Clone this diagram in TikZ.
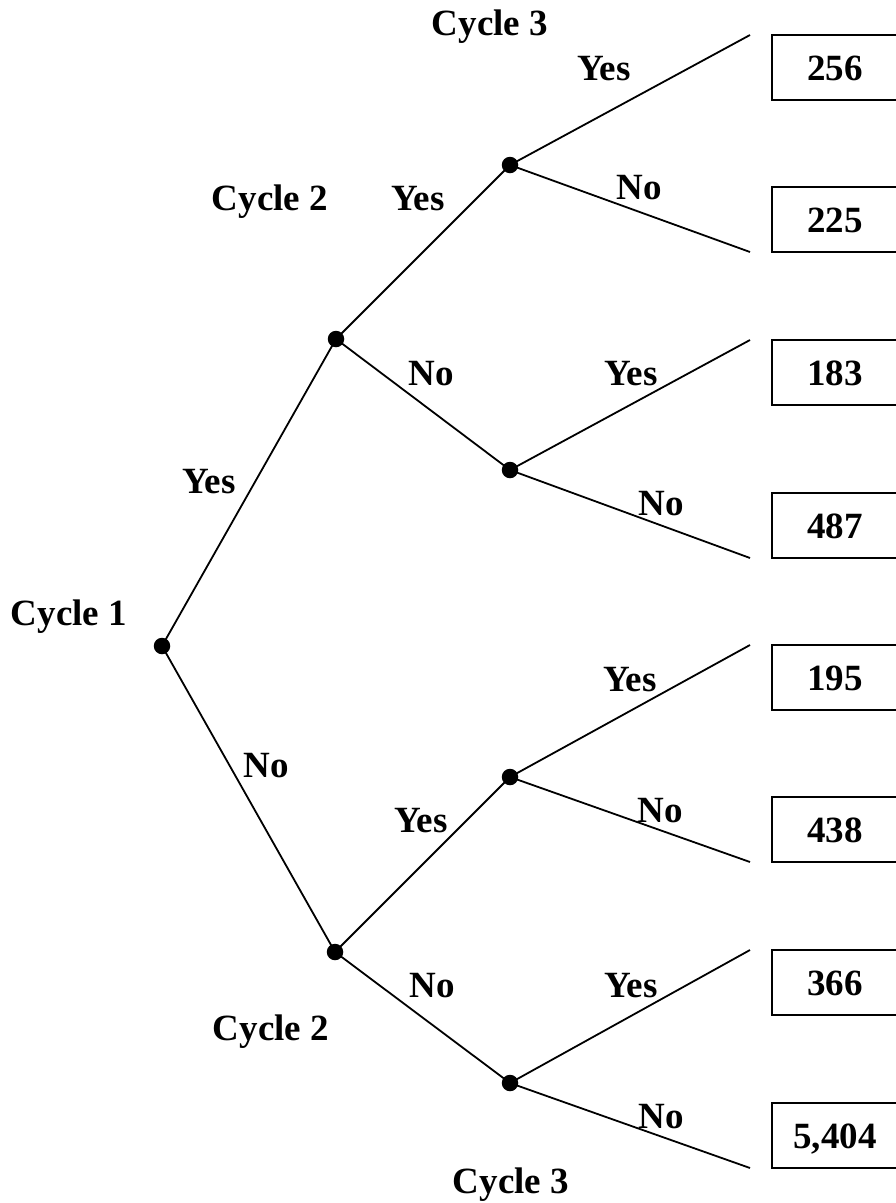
\documentclass[tikz,border=0pt]{standalone}
\usepackage{fontspec}
\setmainfont{Liberation Serif}
\begin{document}
\begin{tikzpicture}[x=1pt,y=-1pt,
  lbl/.style={anchor=base,inner sep=0pt,font=\fontsize{37}{40}\selectfont\bfseries},
  dot/.style={circle,fill=black,inner sep=0pt,minimum size=16.5pt},
  branch/.style={line width=1.8pt},
  leafbox/.style={draw,line width=1.8pt,rectangle,minimum width=126pt,minimum height=65pt,
     inner sep=0pt,text height=25pt,text depth=0pt,font=\fontsize{37}{40}\selectfont\bfseries}]
\useasboundingbox (0,0) rectangle (895,1203);
% decision points
\node[dot] (r) at (162,646) {};
\node[dot] (a) at (336,339) {};
\node[dot] (b) at (335,952) {};
\node[dot] (aa) at (510,165) {};
\node[dot] (ab) at (510,470) {};
\node[dot] (ba) at (510,777) {};
\node[dot] (bb) at (510,1083) {};
% leaf ends
\coordinate (e1) at (750,35);
\coordinate (e2) at (750,252);
\coordinate (e3) at (750,340);
\coordinate (e4) at (750,558);
\coordinate (e5) at (750,645);
\coordinate (e6) at (750,862);
\coordinate (e7) at (750,950);
\coordinate (e8) at (750,1168);
% branches
\draw[branch] (r.center) -- (a.center);
\draw[branch] (r.center) -- (b.center);
\draw[branch] (a.center) -- (aa.center);
\draw[branch] (a.center) -- (ab.center);
\draw[branch] (b.center) -- (ba.center);
\draw[branch] (b.center) -- (bb.center);
\draw[branch] (aa.center) -- (e1);
\draw[branch] (aa.center) -- (e2);
\draw[branch] (ab.center) -- (e3);
\draw[branch] (ab.center) -- (e4);
\draw[branch] (ba.center) -- (e5);
\draw[branch] (ba.center) -- (e6);
\draw[branch] (bb.center) -- (e7);
\draw[branch] (bb.center) -- (e8);
% outcome boxes
\node[leafbox] (o1) at (835,67.5) {256};
\node[leafbox] (o2) at (835,219.5) {225};
\node[leafbox] (o3) at (835,372.5) {183};
\node[leafbox] (o4) at (835,525.5) {487};
\node[leafbox] (o5) at (835,677.5) {195};
\node[leafbox] (o6) at (835,829.5) {438};
\node[leafbox] (o7) at (835,982.5) {366};
\node[leafbox] (o8) at (835,1135.5) {5,404};
% labels
\node[lbl] (t1) at (490,35) {Cycle 3};
\node[lbl] (t2) at (604,80) {Yes};
\node[lbl] (t3) at (270,210) {Cycle 2};
\node[lbl] (t4) at (418,210) {Yes};
\node[lbl] (t5) at (639,199) {No};
\node[lbl] (t6) at (431,385) {No};
\node[lbl] (t7) at (631,385) {Yes};
\node[lbl] (t8) at (209,493) {Yes};
\node[lbl] (t9) at (661,515) {No};
\node[lbl] (t10) at (69,625) {Cycle 1};
\node[lbl] (t11) at (630,691) {Yes};
\node[lbl] (t12) at (266,777) {No};
\node[lbl] (t13) at (421,832) {Yes};
\node[lbl] (t14) at (660,822) {No};
\node[lbl] (t15) at (432,997) {No};
\node[lbl] (t16) at (631,997) {Yes};
\node[lbl] (t17) at (271,1040) {Cycle 2};
\node[lbl] (t18) at (661,1128) {No};
\node[lbl] (t19) at (511,1193) {Cycle 3};
\end{tikzpicture}
\end{document}
